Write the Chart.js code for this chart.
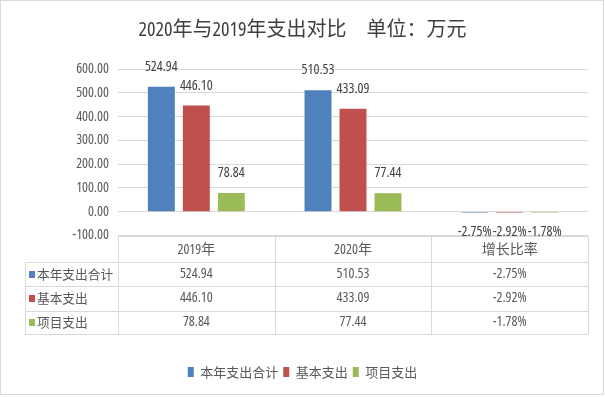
<!DOCTYPE html>
<html>
<head>
<meta charset="utf-8">
<script src="https://cdn.jsdelivr.net/npm/chart.js@4.4.1/dist/chart.umd.min.js"></script>
<style>
  html, body { margin: 0; padding: 0; background: #ffffff; }
  #wrap { width: 605px; height: 397px; }
</style>
</head>
<body>
<div id="wrap"><canvas id="c" width="605" height="397"></canvas></div>
<script>
const titleText = '2020年与2019年支出对比　单位：万元';
const categories = ['2019年', '2020年', '增长比率'];
const percentCategory = [false, false, true];
const seriesNames = ['本年支出合计', '基本支出', '项目支出'];
const totalValues = [524.94, 510.53, -2.75];
const basicValues = [446.10, 433.09, -2.92];
const projectValues = [78.84, 77.44, -1.78];
const seriesColors = ['#4F81BD', '#C0504D', '#9BBB59'];
const yMin = -100, yMax = 600, yStep = 100;

const FAMILY = '"Open Sans", "Noto Sans CJK SC", sans-serif';
const STRETCH = 'semi-condensed';
const FONT14 = STRETCH + ' 14px ' + FAMILY;
const CJK = '"Noto Sans CJK SC", sans-serif';
const TEXT = '#595959';
const DARK = '#404040';
const LINE = '#d9d9d9';

function fmt(v, i) {
  return percentCategory[i] ? v.toFixed(2) + '%' : v.toFixed(2);
}

const seriesValues = [totalValues, basicValues, projectValues];

const chromePlugin = {
  id: 'chrome',
  beforeDraw(chart) {
    const ctx = chart.ctx;
    ctx.save();
    ctx.fillStyle = '#ffffff';
    ctx.fillRect(0, 0, chart.width, chart.height);
    ctx.strokeStyle = LINE;
    ctx.lineWidth = 1;
    ctx.strokeRect(0.5, 0.5, chart.width - 2, chart.height - 3);
    ctx.restore();
  }
};

const labelPlugin = {
  id: 'valueLabels',
  afterDatasetsDraw(chart) {
    const ctx = chart.ctx;
    ctx.save();
    ctx.font = FONT14;
    ctx.fillStyle = DARK;
    ctx.textAlign = 'center';
    ctx.textBaseline = 'middle';
    chart.data.datasets.forEach((ds, di) => {
      const meta = chart.getDatasetMeta(di);
      meta.data.forEach((bar, i) => {
        const v = ds.data[i];
        const y = v >= 0 ? bar.y - 20 : bar.y + 19;
        ctx.fillText(fmt(v, i), bar.x, y);
      });
    });
    ctx.restore();
  }
};

const tablePlugin = {
  id: 'dataTable',
  afterDraw(chart) {
    const ctx = chart.ctx;
    const xs = chart.scales.x;
    const area = chart.chartArea;
    const half = (xs.getPixelForValue(1) - xs.getPixelForValue(0)) / 2;
    const left = 25;
    const top = Math.round(area.bottom) + 0.5;
    const rowTops = [top, top + 25, top + 49.5, top + 74];
    const bottom = top + 97;
    const colEdges = [area.left];
    categories.forEach((c, i) => colEdges.push(xs.getPixelForValue(i) + half));
    const right = colEdges[colEdges.length - 1];
    ctx.save();
    ctx.strokeStyle = LINE;
    ctx.lineWidth = 1;
    ctx.beginPath();
    ctx.moveTo(Math.round(area.left) + 0.5, top);
    ctx.lineTo(Math.round(right) + 0.5, top);
    for (let r = 1; r < rowTops.length; r++) {
      const y = Math.round(rowTops[r]) + 0.5;
      ctx.moveTo(left + 0.5, y);
      ctx.lineTo(Math.round(right) + 0.5, y);
    }
    ctx.moveTo(left + 0.5, Math.round(bottom) + 0.5);
    ctx.lineTo(Math.round(right) + 0.5, Math.round(bottom) + 0.5);
    colEdges.forEach(x => {
      ctx.moveTo(Math.round(x) + 0.5, top);
      ctx.lineTo(Math.round(x) + 0.5, Math.round(bottom) + 0.5);
    });
    ctx.moveTo(left + 0.5, Math.round(rowTops[1]) + 0.5);
    ctx.lineTo(left + 0.5, Math.round(bottom) + 0.5);
    ctx.stroke();

    ctx.fillStyle = TEXT;
    ctx.textBaseline = 'middle';
    ctx.textAlign = 'center';
    ctx.font = FONT14;
    categories.forEach((c, i) => {
      ctx.fillText(c, xs.getPixelForValue(i), (rowTops[0] + rowTops[1]) / 2 + 1);
    });
    const rowBottoms = [rowTops[2], rowTops[3], bottom];
    seriesNames.forEach((name, s) => {
      const yc = (rowTops[s + 1] + rowBottoms[s]) / 2;
      ctx.fillStyle = seriesColors[s];
      ctx.fillRect(29, Math.round(yc) - 3, 6, 7);
      ctx.fillStyle = TEXT;
      ctx.textAlign = 'left';
      ctx.font = '12.7px ' + CJK;
      ctx.fillText(name, 37, yc);
      ctx.textAlign = 'center';
      ctx.font = FONT14;
      seriesValues[s].forEach((v, i) => {
        ctx.fillText(fmt(v, i), xs.getPixelForValue(i), yc);
      });
    });
    ctx.restore();
  }
};

new Chart(document.getElementById('c'), {
  type: 'bar',
  data: {
    labels: categories,
    datasets: seriesNames.map((n, s) => ({
      label: n,
      data: seriesValues[s],
      backgroundColor: seriesColors[s],
      borderWidth: 0,
      minBarLength: 1,
      categoryPercentage: 0.67,
      barPercentage: 0.77
    }))
  },
  options: {
    responsive: false,
    animation: false,
    devicePixelRatio: 1,
    layout: { padding: { left: 0, right: 0, top: 0, bottom: 8.5 } },
    plugins: {
      title: {
        display: true,
        text: titleText,
        color: DARK,
        font: { family: FAMILY, size: 20, weight: STRETCH, lineHeight: 1.2 },
        padding: { top: 18, bottom: 27 }
      },
      legend: {
        display: true,
        position: 'bottom',
        labels: {
          boxWidth: 6,
          boxHeight: 10,
          padding: 5,
          color: TEXT,
          font: { family: CJK, size: 13 }
        }
      },
      tooltip: { enabled: false }
    },
    scales: {
      x: {
        display: true,
        grid: { display: false },
        border: { display: false },
        ticks: { display: false },
        afterFit(scale) { scale.height = 125; }
      },
      y: {
        min: yMin,
        max: yMax,
        ticks: {
          stepSize: yStep,
          padding: 9,
          color: TEXT,
          font: { family: FAMILY, size: 14, weight: STRETCH },
          callback: v => Number(v).toFixed(2)
        },
        grid: { color: LINE, drawTicks: false, lineWidth: 1 },
        border: { display: false },
        afterFit(scale) { scale.width = 118; }
      },
      yRight: {
        position: 'right',
        display: true,
        grid: { display: false },
        border: { display: false },
        ticks: { display: false },
        afterFit(scale) { scale.width = 17; }
      }
    }
  },
  plugins: [chromePlugin, labelPlugin, tablePlugin]
});
</script>
</body>
</html>
